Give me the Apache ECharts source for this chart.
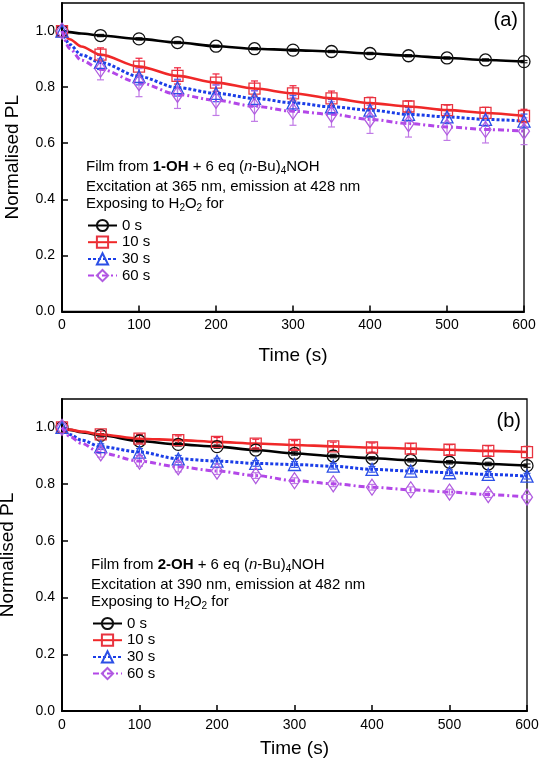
<!DOCTYPE html>
<html><head><meta charset="utf-8">
<script src="https://cdn.jsdelivr.net/npm/echarts@6/dist/echarts.min.js"></script>
<style>html,body{margin:0;padding:0;background:#fff}#c{width:543px;height:768px}</style>
</head><body><div id="c"></div>
<script>
// ---- data ----
const times = [0, 50, 100, 150, 200, 250, 300, 350, 400, 450, 500, 550, 600];
const earlyTimes = [10, 25];
const xTicks = [0, 100, 200, 300, 400, 500, 600];
const yTicks = [0.0, 0.2, 0.4, 0.6, 0.8, 1.0];
const seriesNames = ['0 s', '10 s', '30 s', '60 s'];

// panel (a)
const a0  = [1.000, 0.984, 0.972, 0.959, 0.946, 0.937, 0.932, 0.927, 0.920, 0.912, 0.904, 0.897, 0.891];
const a10 = [1.000, 0.916, 0.873, 0.840, 0.816, 0.795, 0.778, 0.760, 0.743, 0.731, 0.718, 0.708, 0.697];
const a30 = [1.000, 0.888, 0.838, 0.798, 0.778, 0.760, 0.744, 0.730, 0.718, 0.703, 0.694, 0.685, 0.679];
const a60 = [1.000, 0.864, 0.816, 0.774, 0.753, 0.732, 0.714, 0.703, 0.685, 0.670, 0.658, 0.649, 0.643];
const a0Early  = [0.996, 0.991];
const a10Early = [0.971, 0.945];
const a30Early = [0.952, 0.915];
const a60Early = [0.938, 0.896];
const a0Err  = [0, 0.004, 0.004, 0.004, 0.004, 0.004, 0.004, 0.004, 0.004, 0.004, 0.004, 0.004, 0.004];
const a10Err = [0, 0.024, 0.030, 0.029, 0.031, 0.027, 0.027, 0.026, 0.021, 0.020, 0.018, 0.020, 0.024];
const a30Err = [0, 0.025, 0.030, 0.030, 0.030, 0.028, 0.027, 0.026, 0.025, 0.024, 0.024, 0.024, 0.025];
const a60Err = [0, 0.038, 0.050, 0.050, 0.054, 0.054, 0.050, 0.045, 0.050, 0.048, 0.048, 0.048, 0.048];

// panel (b)
const b0  = [1.000, 0.972, 0.952, 0.940, 0.932, 0.920, 0.908, 0.899, 0.891, 0.884, 0.877, 0.871, 0.865];
const b10 = [1.000, 0.975, 0.960, 0.955, 0.949, 0.943, 0.938, 0.933, 0.929, 0.925, 0.921, 0.917, 0.913];
const b30 = [1.000, 0.932, 0.913, 0.889, 0.881, 0.873, 0.869, 0.863, 0.852, 0.846, 0.840, 0.834, 0.828];
const b60 = [1.000, 0.910, 0.881, 0.861, 0.846, 0.830, 0.812, 0.801, 0.789, 0.780, 0.772, 0.763, 0.754];
const b0Early  = [0.991, 0.983];
const b10Early = [0.992, 0.985];
const b30Early = [0.975, 0.955];
const b60Early = [0.968, 0.944];
const b0Err  = [0, 0.006, 0.006, 0.006, 0.006, 0.006, 0.006, 0.006, 0.006, 0.006, 0.006, 0.006, 0.006];
const b10Err = [0, 0.012, 0.015, 0.015, 0.015, 0.015, 0.015, 0.015, 0.016, 0.018, 0.018, 0.018, 0.020];
const b30Err = [0, 0.010, 0.012, 0.012, 0.010, 0.010, 0.010, 0.010, 0.010, 0.010, 0.010, 0.010, 0.010];
const b60Err = [0, 0.015, 0.018, 0.018, 0.012, 0.010, 0.010, 0.010, 0.010, 0.010, 0.010, 0.010, 0.010];

// ---- styles ----
const FONT = "'Liberation Sans', Arial, sans-serif";
const styles = [
  {symbol: 'circle',   size: 12, mc: '#111111', lc: '#000000', lw: 2.6, lt: 'solid',       ec: '#222222'},
  {symbol: 'rect',     size: 11, mc: '#e8333f', lc: '#f02828', lw: 2.6, lt: 'solid',       ec: '#f0203a'},
  {symbol: 'triangle', size: 12, mc: '#2b4fe6', lc: '#1a3de8', lw: 3,   lt: [3, 2],        ec: '#3355ee'},
  {symbol: 'diamond',  size: [11, 16], mc: '#b05ce0', lc: '#b347e8', lw: 3, lt: [6, 3, 2, 3], ec: '#c07ae6'}
];

function lineSeries(idx, name, vals, early, st) {
  const data = [{value: [times[0], vals[0]]}];
  early.forEach((v, i) => data.push({value: [earlyTimes[i], v], symbol: 'none'}));
  for (let i = 1; i < times.length; i++) data.push({value: [times[i], vals[i]]});
  return {
    type: 'line', name, xAxisIndex: idx, yAxisIndex: idx, data,
    smooth: 0.3, smoothMonotone: 'x', symbol: st.symbol, symbolSize: st.size, showAllSymbol: true,
    lineStyle: {color: st.lc, width: st.lw, type: st.lt},
    itemStyle: {color: 'rgba(255,255,255,0)', borderColor: st.mc, borderWidth: 1.3},
    emphasis: {disabled: true}, z: 3
  };
}
function errSeries(idx, vals, errs, st) {
  return {
    type: 'custom', xAxisIndex: idx, yAxisIndex: idx, silent: true, z: 2,
    data: times.map((t, i) => [t, vals[i], errs[i]]),
    encode: {x: 0, y: 1},
    renderItem: function (params, api) {
      const x = api.value(0), y = api.value(1), e = api.value(2);
      if (!e) return null;
      const top = api.coord([x, y + e]);
      const bot = api.coord([x, y - e]);
      const hw = 3.5;
      const ls = {stroke: st.ec, lineWidth: 1.2};
      return {type: 'group', children: [
        {type: 'line', shape: {x1: top[0], y1: top[1], x2: bot[0], y2: bot[1]}, style: ls},
        {type: 'line', shape: {x1: top[0] - hw, y1: top[1], x2: top[0] + hw, y2: top[1]}, style: ls},
        {type: 'line', shape: {x1: bot[0] - hw, y1: bot[1], x2: bot[0] + hw, y2: bot[1]}, style: ls}
      ]};
    }
  };
}

function xAxisCfg(idx, gap) {
  return {
    gridIndex: idx, type: 'value', min: xTicks[0], max: xTicks[xTicks.length - 1], interval: 100,
    axisLine: {show: true, onZero: false, lineStyle: {color: '#000', width: 2}},
    axisTick: {inside: true, length: 6, lineStyle: {color: '#000', width: 1.5}},
    axisLabel: {color: '#000', fontSize: 14, margin: 7, fontFamily: FONT},
    splitLine: {show: false},
    name: 'Time (s)', nameLocation: 'middle', nameGap: gap,
    nameTextStyle: {fontSize: 19, color: '#000', fontFamily: FONT}
  };
}
function yAxisCfg(idx, gap) {
  return {
    gridIndex: idx, type: 'value', min: yTicks[0], max: 1.1, interval: 0.2,
    axisLine: {show: true, onZero: false, lineStyle: {color: '#000', width: 2}},
    axisTick: {inside: true, length: 6, lineStyle: {color: '#000', width: 1.5}},
    axisLabel: {color: '#000', fontSize: 14, margin: 7, fontFamily: FONT, showMaxLabel: false,
      formatter: v => (Math.abs(v - 1.1) < 1e-6 ? '' : v.toFixed(1))},
    splitLine: {show: false},
    name: 'Normalised PL', nameLocation: 'middle', nameGap: gap,
    nameTextStyle: {fontSize: 19, color: '#000', fontFamily: FONT}
  };
}

const rich = {
  b: {fontWeight: 'bold', fontSize: 15, fontFamily: FONT, lineHeight: 18, fill: '#000'},
  i: {fontStyle: 'italic', fontSize: 15, fontFamily: FONT, lineHeight: 18, fill: '#000'},
  s: {fontSize: 10, fontFamily: FONT, lineHeight: 10, verticalAlign: 'bottom', fill: '#000'}
};
function txt(x, y, text, size) {
  return {type: 'text', x, y, z: 10, style: {text, rich, fontSize: size || 15, fontFamily: FONT,
    lineHeight: 18, fill: '#000', align: 'left', verticalAlign: 'middle'}};
}

const series = [];
const A = [[a0, a0Early, a0Err], [a10, a10Early, a10Err], [a30, a30Early, a30Err], [a60, a60Early, a60Err]];
const B = [[b0, b0Early, b0Err], [b10, b10Early, b10Err], [b30, b30Early, b30Err], [b60, b60Early, b60Err]];
[A, B].forEach((P, idx) => {
  P.forEach((s, k) => {
    series.push(errSeries(idx, s[0], s[2], styles[k]));
  });
  P.forEach((s, k) => {
    series.push(lineSeries(idx, seriesNames[k], s[0], s[1], styles[k]));
  });
});

const legendCommon = {
  orient: 'vertical', itemWidth: 29, itemHeight: 14, itemGap: 1.7, padding: 0, selectedMode: false,
  textStyle: {fontSize: 15, color: '#000', fontFamily: FONT}, data: seriesNames
};

const option = {
  animation: false,
  backgroundColor: '#fff',
  grid: [
    {left: 62, right: 19, top: 3, height: 308.5, show: true, borderColor: '#000', borderWidth: 1.3, containLabel: false, outerBoundsMode: 'none'},
    {left: 62, right: 16, top: 399, height: 312, show: true, borderColor: '#000', borderWidth: 1.3, containLabel: false, outerBoundsMode: 'none'}
  ],
  xAxis: [xAxisCfg(0, 35), xAxisCfg(1, 28)],
  yAxis: [yAxisCfg(0, 40), yAxisCfg(1, 45)],
  legend: [
    Object.assign({left: 87, top: 218}, legendCommon),
    Object.assign({left: 92, top: 616}, legendCommon)
  ],
  graphic: [
    {type: 'text', right: 25, top: 10, z: 10, style: {text: '(a)', fontSize: 20, fontFamily: FONT, fill: '#000'}},
    {type: 'text', right: 22, top: 411, z: 10, style: {text: '(b)', fontSize: 20, fontFamily: FONT, fill: '#000'}},
    txt(86, 167, 'Film from {b|1-OH} + 6 eq ({i|n}-Bu){s|4}NOH'),
    txt(86, 187, 'Excitation at 365 nm, emission at 428 nm'),
    txt(86, 204, 'Exposing to H{s|2}O{s|2} for'),
    txt(91, 565, 'Film from {b|2-OH} + 6 eq ({i|n}-Bu){s|4}NOH'),
    txt(91, 585, 'Excitation at 390 nm, emission at 482 nm'),
    txt(91, 602, 'Exposing to H{s|2}O{s|2} for')
  ],
  series
};
const chart = echarts.init(document.getElementById('c'), null, {renderer: 'canvas'});
chart.setOption(option);
</script></body></html>
